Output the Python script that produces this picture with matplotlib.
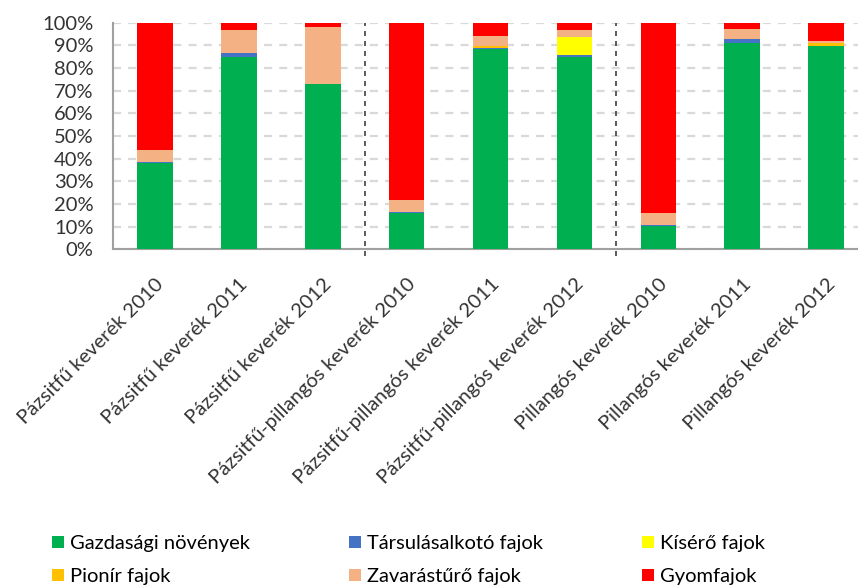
import matplotlib
matplotlib.use("Agg")
from matplotlib import pyplot as plt
import numpy as np

plt.rcParams["font.family"] = ["Lato", "DejaVu Sans"]

categories = ["Pázsitfű keverék 2010", "Pázsitfű keverék 2011", "Pázsitfű keverék 2012",
              "Pázsitfű-pillangós keverék 2010", "Pázsitfű-pillangós keverék 2011",
              "Pázsitfű-pillangós keverék 2012",
              "Pillangós keverék 2010", "Pillangós keverék 2011", "Pillangós keverék 2012"]

gazdasagi = [38.2, 84.7, 73.0, 15.9, 88.3, 84.7, 10.4, 90.9, 89.9]
tarsulas = [0.5, 1.8, 0.0, 0.5, 0.7, 1.0, 0.5, 1.8, 0.0]
kisero = [0.0, 0.0, 0.0, 0.0, 0.0, 8.0, 0.0, 0.0, 0.0]
pionir = [0.0, 0.0, 0.0, 0.0, 0.8, 0.0, 0.0, 0.0, 1.2]
zavar = [5.3, 10.3, 25.0, 5.4, 4.3, 3.1, 5.0, 4.7, 1.0]
gyom = [56.0, 3.2, 2.0, 78.2, 5.9, 3.2, 84.1, 2.6, 7.9]

series = [
    ("Gazdasági növények", gazdasagi, "#00B050"),
    ("Társulásalkotó fajok", tarsulas, "#4472C4"),
    ("Kísérő fajok", kisero, "#FFFF00"),
    ("Pionír fajok", pionir, "#FFC000"),
    ("Zavarástűrő fajok", zavar, "#F4B183"),
    ("Gyomfajok", gyom, "#FF0000"),
]

fig = plt.figure(figsize=(8.58, 5.85), dpi=100)
ax = fig.add_axes([113 / 858, 1 - 249.3 / 585, 9 * 83.9 / 858, 226.6 / 585])

x = np.arange(len(categories))
bottom = np.zeros(len(categories))
handles = {}
for name, vals, col in series:
    vals = np.array(vals)
    b = ax.bar(x, vals, 0.425, bottom=bottom, color=col, label=name, zorder=3)
    handles[name] = b
    bottom += vals

txt_col = "#333333"
ax.set_xlim(-0.5, 8.5)
ax.set_ylim(0, 100)
ax.set_yticks(np.arange(0, 101, 10))
ax.set_yticklabels([f"{v}%" for v in range(0, 101, 10)], fontsize=14.5, color=txt_col)
ax.set_xticks(x)
ax.set_xticklabels(categories, rotation=45, ha="right", rotation_mode="anchor",
                   fontsize=14.5, color=txt_col)
ax.tick_params(axis="both", length=0)
ax.tick_params(axis="y", pad=14)
ax.tick_params(axis="x", pad=19)

ax.yaxis.grid(True, color="#D9D9D9", linewidth=1.6, linestyle=(0, (3.6, 3.2)), zorder=0)
ax.set_axisbelow(True)
for s in ["top", "right"]:
    ax.spines[s].set_visible(False)
for s in ["left", "bottom"]:
    ax.spines[s].set_color("#A0A0A0")
    ax.spines[s].set_linewidth(1.5)

# group separators
for sep in [2.5, 5.5]:
    ax.axvline(sep, ymin=-0.03, ymax=1.0, color="#404040", linewidth=1.2,
               linestyle=(0, (3, 3)), clip_on=False, zorder=4)

order = ["Gazdasági növények", "Pionír fajok", "Társulásalkotó fajok",
         "Zavarástűrő fajok", "Kísérő fajok", "Gyomfajok"]
fig.legend([handles[n] for n in order], order, ncol=3, loc="upper left",
           bbox_to_anchor=(44 / 858, 1 - 527 / 585), frameon=False, fontsize=14.5,
           handlelength=0.6, handleheight=0.6, handletextpad=0.3,
           columnspacing=4.9, labelspacing=0.8, borderaxespad=0)

fig.savefig("out.png", dpi=100)
